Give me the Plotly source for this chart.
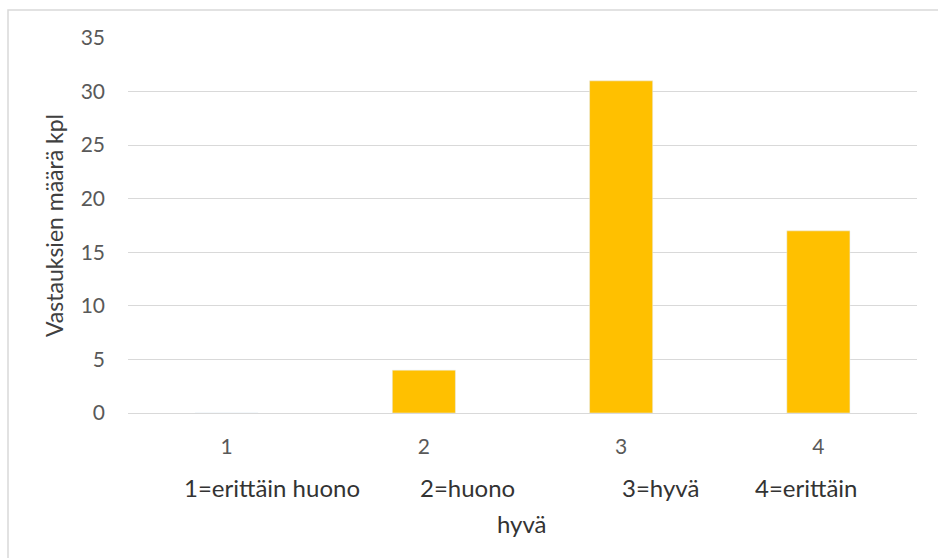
import plotly.graph_objects as go

categories = ["1", "2", "3", "4"]
values = [0, 4, 31, 17]
y_ticks = [0, 5, 10, 15, 20, 25, 30, 35]
x_title_parts = ["1=erittäin huono", "2=huono", "3=hyvä", "4=erittäin", "hyvä"]
y_title = "Vastauksien määrä kpl"

W, H = 938, 558
L, R, T, B = 128, 21, 38, 145
pw, ph = W - L - R, H - T - B

FONT = "Lato"
fig = go.Figure(go.Bar(x=categories, y=values, marker_color="#FFC000", width=0.32))

fig.update_layout(
    width=W, height=H,
    margin=dict(l=L, r=R, t=T, b=B, pad=0),
    paper_bgcolor="white", plot_bgcolor="white",
    showlegend=False,
    font=dict(family=FONT, size=21, color="#595959"),
    xaxis=dict(type="category", showgrid=False, zeroline=False, showline=True,
               linecolor="#D9D9D9", linewidth=1, ticks="", ticklabelstandoff=15,
               tickfont=dict(size=21, color="#595959")),
    yaxis=dict(range=[0, 35], tickvals=y_ticks, showgrid=True, gridcolor="#D9D9D9",
               gridwidth=1, zeroline=False, showline=False, ticks="",
               ticklabelstandoff=22, tickfont=dict(size=21, color="#595959"),
               title=dict(text=y_title, font=dict(size=23, color="#404040"), standoff=10)),
)

def px(x):
    return (x - L) / pw

def py(y):
    return (H - B - y) / ph

pos = [(182, 487), (418, 487), (620, 487), (753, 487)]
for t, (x, y) in zip(x_title_parts[:4], pos):
    fig.add_annotation(text=t, xref="paper", yref="paper", x=px(x), y=py(y),
                       xanchor="left", yanchor="middle", showarrow=False,
                       font=dict(size=24, color="#333333", family=FONT))
fig.add_annotation(text=x_title_parts[4], xref="paper", yref="paper", x=px(522), y=py(523),
                   xanchor="center", yanchor="middle", showarrow=False,
                   font=dict(size=24, color="#333333", family=FONT))

# outer chart border (only top/left visible)
fig.add_shape(type="rect", xref="paper", yref="paper", x0=px(8), y0=py(10),
              x1=px(W + 20), y1=py(H + 20), line=dict(color="#D9D9D9", width=1.5),
              fillcolor="rgba(0,0,0,0)", layer="below")

fig.write_html("out.html")
